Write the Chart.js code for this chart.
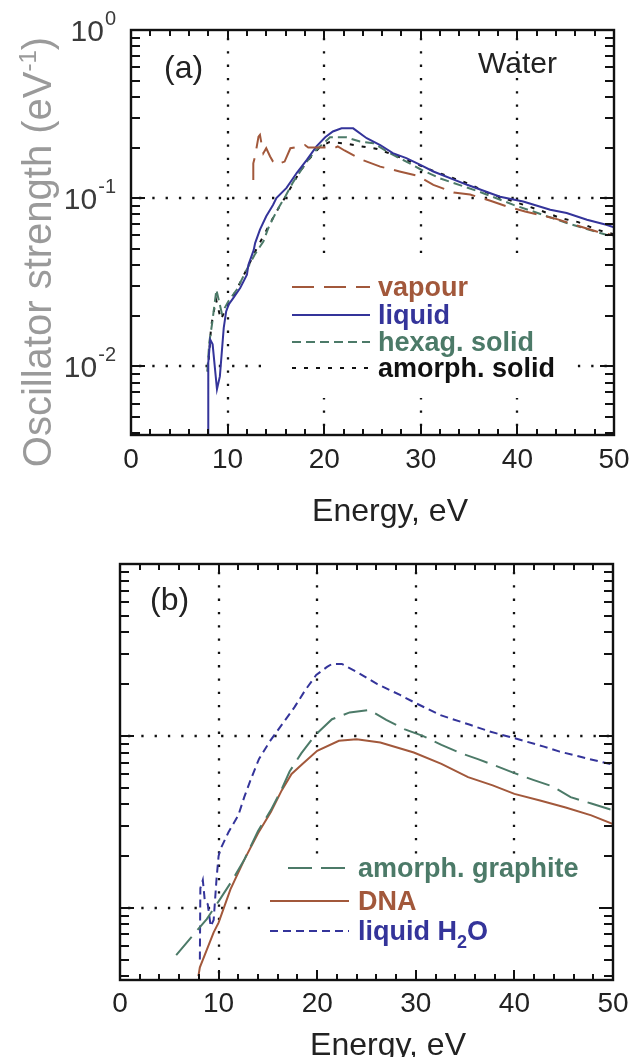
<!DOCTYPE html>
<html>
<head>
<meta charset="utf-8">
<script src="https://cdn.jsdelivr.net/npm/chart.js@4.4.0/dist/chart.umd.min.js"></script>
<style>
  body { margin: 0; background: #fff; }
  canvas { position: absolute; left: 0; }
  #graficoA { top: 0; }
  #graficoB { top: 530px; }
</style>
</head>
<body>
<canvas id="graficoA" width="635" height="530"></canvas>
<canvas id="graficoB" width="635" height="527"></canvas>
<script>
// Eixos
const energiaTicks = [0, 10, 20, 30, 40, 50];
const expoentesY = [0, -1, -2];

// Painel (a) - água
const vapourE = [12.66, 12.66, 12.84, 13.2, 13.35, 13.5, 13.7, 14.0, 14.4, 14.7, 15.05, 15.9, 16.5, 17.5, 18.0, 18.35, 20.1, 21.0, 21.4, 22.1, 23.9, 25.8, 27.8, 29.6, 31.3, 33.4, 35.1, 37.2, 38.9, 40.8, 42.7, 44.1, 46.5, 48.2, 50.0];
const vapourF = [0.128, 0.161, 0.177, 0.232, 0.238, 0.212, 0.185, 0.198, 0.177, 0.165, 0.158, 0.165, 0.198, 0.203, 0.207, 0.200, 0.200, 0.198, 0.203, 0.192, 0.169, 0.154, 0.144, 0.136, 0.120, 0.108, 0.105, 0.0964, 0.0892, 0.0832, 0.0785, 0.075, 0.0678, 0.0633, 0.060];

const liquidE = [8.0, 8.0, 8.2, 8.45, 8.9, 9.2, 9.6, 9.85, 10.1, 10.6, 11.3, 12.0, 12.15, 12.7, 12.85, 13.35, 14.0, 14.7, 15.05, 16.1, 17.15, 18.2, 19.2, 20.1, 20.9, 21.8, 23.0, 24.4, 25.8, 27.1, 28.5, 29.9, 31.3, 34.8, 38.2, 40.6, 43.4, 45.1, 47.2, 49.2, 50.0];
const liquidF = [0.0035, 0.0105, 0.0144, 0.0135, 0.0073, 0.0087, 0.0169, 0.0212, 0.0232, 0.0255, 0.0292, 0.035, 0.040, 0.049, 0.054, 0.065, 0.078, 0.091, 0.100, 0.115, 0.141, 0.169, 0.203, 0.230, 0.249, 0.260, 0.260, 0.227, 0.207, 0.185, 0.173, 0.158, 0.144, 0.120, 0.102, 0.0955, 0.0853, 0.0815, 0.0743, 0.0694, 0.067];

const hexagE = [7.9, 8.1, 8.4, 8.84, 9.4, 10.07, 10.94, 11.97, 12.8, 13.7, 14.2, 14.7, 15.4, 16.0, 16.8, 18.2, 19.2, 20.6, 22.3, 23.7, 25.1, 26.8, 28.5, 30.0, 32.0, 36.1, 39.6, 41.65, 45.1, 49.2, 50.0];
const hexagF = [0.0093, 0.0138, 0.018, 0.0285, 0.0207, 0.0243, 0.0285, 0.0375, 0.046, 0.0552, 0.066, 0.076, 0.090, 0.103, 0.125, 0.165, 0.194, 0.230, 0.230, 0.217, 0.212, 0.185, 0.165, 0.148, 0.131, 0.109, 0.0912, 0.0832, 0.0711, 0.0605, 0.059];

const amorphE = [7.95, 8.3, 8.8, 9.3, 10.0, 11.0, 12.0, 13.0, 14.0, 15.0, 16.0, 17.2, 18.2, 19.5, 20.5, 22.0, 23.9, 25.5, 27.5, 29.5, 31.3, 35.1, 37.0, 38.9, 42.5, 44.4, 46.3, 48.2, 50.0];
const amorphF = [0.0093, 0.0173, 0.025, 0.019, 0.023, 0.029, 0.038, 0.050, 0.064, 0.082, 0.102, 0.135, 0.165, 0.200, 0.215, 0.212, 0.203, 0.196, 0.178, 0.160, 0.145, 0.121, 0.107, 0.0986, 0.084, 0.0763, 0.072, 0.065, 0.061];

// Painel (b) - grafite, DNA e água líquida
const graphiteE = [5.7, 7.2, 8.8, 10.0, 11.2, 12.6, 14.0, 15.3, 16.4, 17.2, 18.4, 19.8, 21.5, 23.3, 25.3, 27.0, 28.9, 30.7, 32.6, 34.4, 36.3, 38.1, 40.0, 41.9, 43.9, 45.7, 47.8, 50.0];
const graphiteF = [0.0053, 0.0067, 0.0086, 0.0109, 0.0139, 0.019, 0.028, 0.037, 0.049, 0.062, 0.0794, 0.101, 0.125, 0.137, 0.1416, 0.124, 0.109, 0.100, 0.0887, 0.080, 0.0732, 0.067, 0.0607, 0.0555, 0.0508, 0.044, 0.0404, 0.0369];

const dnaE = [7.95, 8.1, 9.5, 10.0, 11.2, 12.6, 14.0, 15.3, 16.4, 17.4, 18.5, 20.0, 22.2, 24.0, 26.4, 29.8, 32.6, 35.3, 37.8, 40.0, 42.6, 45.2, 47.8, 50.0];
const dnaF = [0.0040, 0.0045, 0.0072, 0.0082, 0.0128, 0.019, 0.0271, 0.0361, 0.0482, 0.0601, 0.0687, 0.0819, 0.0936, 0.0957, 0.0916, 0.080, 0.0687, 0.0575, 0.0515, 0.046, 0.0421, 0.0383, 0.0345, 0.0307];

const aguaE = [8.1, 8.15, 8.4, 8.6, 8.9, 9.2, 9.5, 9.8, 10.0, 10.2, 11.0, 12.0, 12.6, 13.3, 14.1, 15.2, 16.5, 17.7, 18.8, 19.9, 21.0, 21.5, 22.5, 24.0, 26.1, 28.4, 30.0, 32.5, 35.5, 37.5, 40.0, 43.0, 44.6, 46.6, 48.6, 50.0];
const aguaF = [0.0050, 0.013, 0.0145, 0.011, 0.0105, 0.0078, 0.0085, 0.015, 0.020, 0.022, 0.0275, 0.0345, 0.044, 0.0565, 0.0735, 0.093, 0.118, 0.147, 0.185, 0.226, 0.252, 0.262, 0.262, 0.236, 0.200, 0.173, 0.155, 0.132, 0.116, 0.106, 0.097, 0.0866, 0.081, 0.0758, 0.071, 0.068];

const FONTE = '"Liberation Sans", Arial, Helvetica, sans-serif';
const MARROM = '#a2583b';
const AZUL = '#34349a';
const VERDE = '#4c7a68';

function pontos(xs, ys) {
    return xs.map((x, i) => ({ x: x, y: ys[i] }));
}

function serie(nome, xs, ys, cor, traco) {
    return {
        label: nome,
        data: pontos(xs, ys),
        borderColor: cor,
        borderWidth: 2,
        borderDash: traco,
        pointRadius: 0,
        tension: 0,
        fill: false
    };
}

// Função que desenha grade pontilhada, moldura com ticks para dentro, rótulos e legenda
const molduraPlugin = {
    id: 'moldura',
    beforeDatasetsDraw(chart, args, op) {
        const ctx = chart.ctx;
        const a = chart.chartArea;
        const x = chart.scales.x;
        const y = chart.scales.y;
        ctx.save();
        ctx.strokeStyle = '#111';
        ctx.lineWidth = 2.3;
        ctx.setLineDash([2.3, 11]);
        [10, 20, 30, 40].forEach(v => {
            const px = Math.round(x.getPixelForValue(v));
            ctx.beginPath();
            ctx.moveTo(px, a.top + 8);
            ctx.lineTo(px, a.bottom);
            ctx.stroke();
        });
        [0.1, 0.01].forEach(v => {
            const py = Math.round(y.getPixelForValue(v));
            ctx.beginPath();
            ctx.moveTo(a.left + 8, py);
            ctx.lineTo(a.right, py);
            ctx.stroke();
        });
        // caixa branca da legenda por cima da grade
        const c = op.caixa;
        ctx.fillStyle = '#fff';
        ctx.fillRect(c[0], c[1], c[2] - c[0], c[3] - c[1]);
        ctx.restore();
    },
    afterDatasetsDraw(chart, args, op) {
        const ctx = chart.ctx;
        const a = chart.chartArea;
        const x = chart.scales.x;
        const y = chart.scales.y;
        ctx.save();
        ctx.strokeStyle = '#111';
        ctx.lineWidth = 2;
        ctx.setLineDash([]);

        function linha(x1, y1, x2, y2) {
            ctx.beginPath();
            ctx.moveTo(x1, y1);
            ctx.lineTo(x2, y2);
            ctx.stroke();
        }

        // ticks em x (principais e secundários)
        for (let v = 0; v <= 50; v += 2) {
            const px = Math.round(x.getPixelForValue(v));
            const tam = v % 10 === 0 ? 10 : 6;
            linha(px, a.bottom, px, a.bottom - tam);
            linha(px, a.top, px, a.top + tam);
        }
        // ticks em y (escala logarítmica)
        for (let e = -3; e <= 0; e++) {
            for (let k = 1; k <= 9; k++) {
                const v = k * Math.pow(10, e);
                if (v < y.min || v > y.max) continue;
                const py = Math.round(y.getPixelForValue(v));
                const tam = k === 1 ? 14 : 9;
                linha(a.left, py, a.left + tam, py);
                linha(a.right, py, a.right - tam, py);
            }
        }
        ctx.lineWidth = 2.4;
        ctx.strokeRect(a.left, a.top, a.right - a.left, a.bottom - a.top);

        // rótulos do eixo x
        ctx.fillStyle = '#222';
        ctx.font = '28px ' + FONTE;
        ctx.textAlign = 'center';
        ctx.textBaseline = 'alphabetic';
        energiaTicks.forEach(v => {
            ctx.fillText(String(v), x.getPixelForValue(v), a.bottom + op.yRotX);
        });
        ctx.font = '32px ' + FONTE;
        ctx.fillText('Energy, eV', op.tituloX[0], op.tituloX[1]);

        // rótulos do eixo y (potências de dez)
        if (op.rotulosY) {
            ctx.fillStyle = '#3a3a3a';
            expoentesY.forEach(ex => {
                const py = y.getPixelForValue(Math.pow(10, ex));
                const sup = ex < 0 ? '-' + Math.abs(ex) : String(ex);
                ctx.textAlign = 'right';
                ctx.font = '20px ' + FONTE;
                const ws = ctx.measureText(sup).width;
                ctx.fillText(sup, 116, py - 5);
                ctx.font = '30px ' + FONTE;
                ctx.fillText('10', 116 - ws - 1, py + 11);
            });
            // título do eixo y, girado
            ctx.save();
            ctx.translate(51, 252);
            ctx.rotate(-Math.PI / 2);
            ctx.fillStyle = '#9a9a9a';
            ctx.textAlign = 'left';
            ctx.font = '40px ' + FONTE;
            const t1 = 'Oscillator strength (eV';
            const w1 = ctx.measureText(t1).width;
            ctx.font = '24px ' + FONTE;
            const w2 = ctx.measureText('-1').width;
            ctx.font = '40px ' + FONTE;
            const w3 = ctx.measureText(')').width;
            const ini = -(w1 + w2 + w3) / 2;
            ctx.fillText(t1, ini, 0);
            ctx.font = '24px ' + FONTE;
            ctx.fillText('-1', ini + w1, -15);
            ctx.font = '40px ' + FONTE;
            ctx.fillText(')', ini + w1 + w2, 0);
            ctx.restore();
        }

        // textos dentro do gráfico
        ctx.fillStyle = '#222';
        ctx.textAlign = 'left';
        op.textos.forEach(t => {
            ctx.font = t[3] + 'px ' + FONTE;
            ctx.fillText(t[0], t[1], t[2]);
        });

        // legenda
        const L = op.legenda;
        chart.data.datasets.forEach((ds, i) => {
            const ly = L.linhas[i];
            ctx.strokeStyle = ds.borderColor;
            ctx.lineWidth = 2;
            ctx.setLineDash(ds.borderDash || []);
            linha(L.x1[i], ly, L.x2, ly);
            ctx.setLineDash([]);
            ctx.fillStyle = ds.borderColor;
            ctx.font = 'bold 27px ' + FONTE;
            ctx.textAlign = 'left';
            const nome = ds.label;
            const idx = nome.indexOf('H2O');
            if (idx >= 0) {
                // H2O com subscrito
                let px = L.xTexto;
                const p1 = nome.slice(0, idx + 1);
                ctx.fillText(p1, px, ly + 9);
                px += ctx.measureText(p1).width;
                ctx.font = 'bold 18px ' + FONTE;
                ctx.fillText('2', px, ly + 17);
                px += ctx.measureText('2').width;
                ctx.font = 'bold 27px ' + FONTE;
                ctx.fillText('O', px, ly + 9);
            } else {
                ctx.fillText(nome, L.xTexto, ly + 9);
            }
        });
        ctx.restore();
    }
};

function opcoes(minY, padding, extra) {
    return {
        responsive: false,
        animation: false,
        layout: { padding: padding },
        scales: {
            x: { type: 'linear', min: 0, max: 50, display: false },
            y: { type: 'logarithmic', min: minY, max: 1, display: false }
        },
        plugins: {
            legend: { display: false },
            tooltip: { enabled: false },
            moldura: extra
        }
    };
}

// Gráfico (a)
new Chart(document.getElementById('graficoA'), {
    type: 'line',
    data: {
        datasets: [
            serie('vapour', vapourE, vapourF, MARROM, [22, 10]),
            serie('liquid', liquidE, liquidF, AZUL, []),
            serie('hexag. solid', hexagE, hexagF, VERDE, [9, 5]),
            serie('amorph. solid', amorphE, amorphF, '#111', [4, 8])
        ]
    },
    options: opcoes(0.0039, { left: 131, right: 21, top: 30, bottom: 95 }, {
        caixa: [272, 262, 576, 398],
        yRotX: 33,
        tituloX: [390, 521],
        rotulosY: true,
        textos: [['(a)', 164, 78, 32], ['Water', 478, 73, 30]],
        legenda: { x1: [292, 292, 292, 292], x2: 370, xTexto: 378, linhas: [287, 315, 342, 368] }
    }),
    plugins: [molduraPlugin]
});

// Gráfico (b)
new Chart(document.getElementById('graficoB'), {
    type: 'line',
    data: {
        datasets: [
            serie('amorph. graphite', graphiteE, graphiteF, VERDE, [24, 9]),
            serie('DNA', dnaE, dnaF, MARROM, []),
            serie('liquid H2O', aguaE, aguaF, AZUL, [8, 5])
        ]
    },
    options: opcoes(0.0038, { left: 120, right: 22, top: 34, bottom: 77 }, {
        caixa: [250, 327, 612, 449],
        yRotX: 32,
        tituloX: [388, 525],
        rotulosY: false,
        textos: [['(b)', 150, 80, 32]],
        legenda: { x1: [288, 270, 270], x2: 349, xTexto: 358, linhas: [338, 371, 401] }
    }),
    plugins: [molduraPlugin]
});
</script>
</body>
</html>
